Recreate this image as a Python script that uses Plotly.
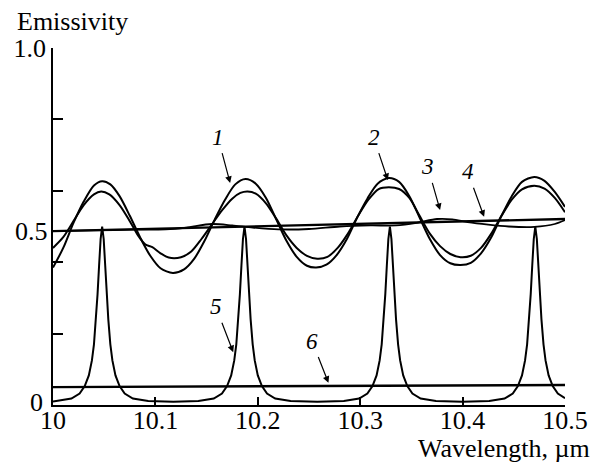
import plotly.graph_objects as go

# ---- data ----
x1 = [10.000, 10.010, 10.020, 10.030, 10.040, 10.048, 10.056, 10.065, 10.075, 10.085,
      10.095, 10.105, 10.117, 10.128, 10.138, 10.148, 10.158, 10.168, 10.178, 10.188,
      10.198, 10.208, 10.218, 10.228, 10.238, 10.248, 10.257, 10.267, 10.277, 10.287,
      10.297, 10.307, 10.317, 10.328, 10.338, 10.348, 10.358, 10.368, 10.378, 10.388,
      10.398, 10.408, 10.418, 10.428, 10.438, 10.448, 10.458, 10.470, 10.480, 10.490, 10.500]
y1 = [0.385, 0.440, 0.510, 0.570, 0.615, 0.627, 0.618, 0.585, 0.530, 0.470,
      0.418, 0.383, 0.370, 0.380, 0.410, 0.460, 0.520, 0.575, 0.618, 0.633,
      0.620, 0.580, 0.520, 0.460, 0.415, 0.390, 0.385, 0.393, 0.420, 0.465,
      0.525, 0.578, 0.620, 0.636, 0.625, 0.585, 0.525, 0.465, 0.420, 0.397,
      0.392, 0.398, 0.425, 0.470, 0.530, 0.585, 0.625, 0.639, 0.628, 0.597, 0.555]

x2 = [10.000, 10.010, 10.020, 10.030, 10.040, 10.047, 10.055, 10.065, 10.075, 10.083,
      10.090, 10.097, 10.105, 10.113, 10.125, 10.135, 10.145, 10.155, 10.165, 10.175,
      10.183, 10.190, 10.198, 10.208, 10.218, 10.228, 10.238, 10.248, 10.258, 10.268,
      10.278, 10.288, 10.298, 10.308, 10.318, 10.328, 10.338, 10.348, 10.358, 10.368,
      10.378, 10.388, 10.398, 10.408, 10.418, 10.428, 10.438, 10.448, 10.458, 10.470,
      10.480, 10.490, 10.500]
y2 = [0.440, 0.470, 0.515, 0.560, 0.590, 0.598, 0.590, 0.560, 0.515, 0.475,
      0.450, 0.442, 0.425, 0.413, 0.414, 0.430, 0.465, 0.505, 0.545, 0.578,
      0.594, 0.598, 0.592, 0.565, 0.522, 0.475, 0.440, 0.418, 0.410, 0.415,
      0.440, 0.480, 0.530, 0.575, 0.605, 0.610, 0.605, 0.580, 0.530, 0.480,
      0.445, 0.423, 0.414, 0.418, 0.440, 0.480, 0.530, 0.575, 0.604, 0.614,
      0.606, 0.580, 0.540]

x3 = [10.000, 10.040, 10.080, 10.110, 10.130, 10.155, 10.175, 10.195, 10.220, 10.250,
      10.280, 10.310, 10.335, 10.355, 10.375, 10.390, 10.405, 10.425, 10.445, 10.470,
      10.490, 10.500]
y3 = [0.487, 0.489, 0.491, 0.492, 0.497, 0.507, 0.503, 0.497, 0.492, 0.493,
      0.500, 0.503, 0.503, 0.510, 0.521, 0.520, 0.512, 0.505, 0.500, 0.499,
      0.507, 0.518]

x4 = [10.0, 10.5]
y4 = [0.487, 0.521]

x5 = [10.000, 10.003, 10.018, 10.026, 10.031, 10.035, 10.038, 10.040, 10.042, 10.0435,
      10.045, 10.0465, 10.048, 10.0495, 10.051, 10.0525, 10.054, 10.056, 10.058, 10.061,
      10.065, 10.070, 10.078, 10.093, 10.1175,
      10.142, 10.157, 10.165, 10.170, 10.174, 10.177, 10.179, 10.181, 10.1825, 10.184,
      10.1855, 10.187, 10.1885, 10.190, 10.1915, 10.193, 10.195, 10.197, 10.200, 10.204,
      10.209, 10.217, 10.232, 10.258,
      10.284, 10.299, 10.307, 10.312, 10.316, 10.319, 10.321, 10.323, 10.3245, 10.326,
      10.3275, 10.329, 10.3305, 10.332, 10.3335, 10.335, 10.337, 10.339, 10.342, 10.346,
      10.351, 10.359, 10.374, 10.400,
      10.426, 10.441, 10.449, 10.454, 10.458, 10.461, 10.463, 10.465, 10.4665, 10.468,
      10.4695, 10.471, 10.4725, 10.474, 10.4755, 10.477, 10.479, 10.481, 10.484, 10.488,
      10.493, 10.500]
y5 = [0.010, 0.011, 0.018, 0.032, 0.053, 0.083, 0.125, 0.170, 0.240, 0.310,
      0.390, 0.465, 0.500, 0.465, 0.390, 0.310, 0.240, 0.170, 0.125, 0.083,
      0.053, 0.032, 0.018, 0.011, 0.009,
      0.011, 0.018, 0.032, 0.053, 0.083, 0.125, 0.170, 0.240, 0.310, 0.390,
      0.465, 0.500, 0.465, 0.390, 0.310, 0.240, 0.170, 0.125, 0.083, 0.053,
      0.032, 0.018, 0.011, 0.009,
      0.011, 0.018, 0.032, 0.053, 0.083, 0.125, 0.170, 0.240, 0.310, 0.390,
      0.465, 0.500, 0.465, 0.390, 0.310, 0.240, 0.170, 0.125, 0.083, 0.053,
      0.032, 0.018, 0.011, 0.009,
      0.011, 0.018, 0.032, 0.053, 0.083, 0.125, 0.170, 0.240, 0.310, 0.390,
      0.465, 0.500, 0.465, 0.390, 0.310, 0.240, 0.170, 0.125, 0.083, 0.053,
      0.032, 0.019]

x6 = [10.0, 10.5]
y6 = [0.050, 0.056]

x_ticks = [10.0, 10.1, 10.2, 10.3, 10.4, 10.5]
x_tick_text = ["10", "10.1", "10.2", "10.3", "10.4", "10.5"]
y_ticks = [0.0, 0.2, 0.4, 0.6, 0.8, 1.0]
y_tick_text = ["", "", "", "", "", "1.0"]
y_extra_labels = ["0", "0.5"]
y_extra_pos = [0.008, 0.487]

# curve labels: text, label position, arrow tip
labels = ["1", "2", "3", "4", "5", "6"]
label_x = [10.161, 10.313, 10.366, 10.405, 10.159, 10.253]
label_y = [0.75, 0.75, 0.667, 0.653, 0.275, 0.179]
tip_x = [10.173, 10.327, 10.378, 10.421, 10.176, 10.269]
tip_y = [0.622, 0.630, 0.546, 0.527, 0.148, 0.062]

FONT = "Liberation Serif"
BLACK = "#000000"
TXT = 26

L, R, T, B = 53, 572, 48, 405  # plot area in pixels
PW, PH = R - L, B - T

def px(x):
    return (x - L) / PW

def py(y):
    return (B - y) / PH

fig = go.Figure()
fig.add_trace(go.Scatter(x=x1, y=y1, mode="lines",
                         line=dict(color=BLACK, width=2, shape="spline", smoothing=0.8)))
fig.add_trace(go.Scatter(x=x2, y=y2, mode="lines",
                         line=dict(color=BLACK, width=2, shape="spline", smoothing=0.8)))
fig.add_trace(go.Scatter(x=x3, y=y3, mode="lines",
                         line=dict(color=BLACK, width=1.8, shape="spline", smoothing=0.8)))
fig.add_trace(go.Scatter(x=x4, y=y4, mode="lines", line=dict(color=BLACK, width=2.4)))
fig.add_trace(go.Scatter(x=x5, y=y5, mode="lines", line=dict(color=BLACK, width=2)))
fig.add_trace(go.Scatter(x=x6, y=y6, mode="lines", line=dict(color=BLACK, width=2.4)))

annotations = []
for t, lx, ly, tx, ty in zip(labels, label_x, label_y, tip_x, tip_y):
    annotations.append(dict(
        x=tx, y=ty, ax=lx, ay=ly, xref="x", yref="y", axref="x", ayref="y",
        text="<i>" + t + "</i>", showarrow=True, arrowhead=2, arrowsize=1.1,
        arrowwidth=1.2, arrowcolor=BLACK, standoff=0, startstandoff=2,
        font=dict(family=FONT, size=23, color=BLACK)))

annotations.append(dict(x=px(14), y=py(21), xref="paper", yref="paper",
                        xanchor="left", yanchor="middle", text="Emissivity",
                        showarrow=False, font=dict(family=FONT, size=TXT, color=BLACK)))
annotations.append(dict(x=px(599), y=py(448), xref="paper", yref="paper",
                        xanchor="right", yanchor="middle", text="Wavelength, µm",
                        showarrow=False, font=dict(family=FONT, size=TXT, color=BLACK)))
for txt, yv, xs in zip(y_extra_labels, y_extra_pos, [-8, -3]):
    annotations.append(dict(x=0, y=yv, xref="paper", yref="y", xanchor="right",
                            yanchor="middle", xshift=xs, text=txt, showarrow=False,
                            font=dict(family=FONT, size=TXT, color=BLACK)))

fig.update_layout(
    width=600, height=465,
    margin=dict(l=L, r=600 - R, t=T, b=465 - B),
    paper_bgcolor="white", plot_bgcolor="white",
    showlegend=False,
    annotations=annotations,
    font=dict(family=FONT, size=TXT, color=BLACK),
    xaxis=dict(range=[10.0, 10.5], tickvals=x_ticks, ticktext=x_tick_text,
               ticks="inside", ticklen=8, tickwidth=1.5, tickcolor=BLACK,
               ticklabelstandoff=-9,
               showline=True, linecolor=BLACK, linewidth=1.5, showgrid=False,
               zeroline=False, tickfont=dict(family=FONT, size=TXT, color=BLACK)),
    yaxis=dict(range=[0.0, 1.0], tickvals=y_ticks, ticktext=y_tick_text,
               ticks="inside", ticklen=10, tickwidth=1.5, tickcolor=BLACK,
               showline=True, linecolor=BLACK, linewidth=1.5, showgrid=False,
               zeroline=False, tickfont=dict(family=FONT, size=TXT, color=BLACK)),
)

fig.write_html("out.html")
